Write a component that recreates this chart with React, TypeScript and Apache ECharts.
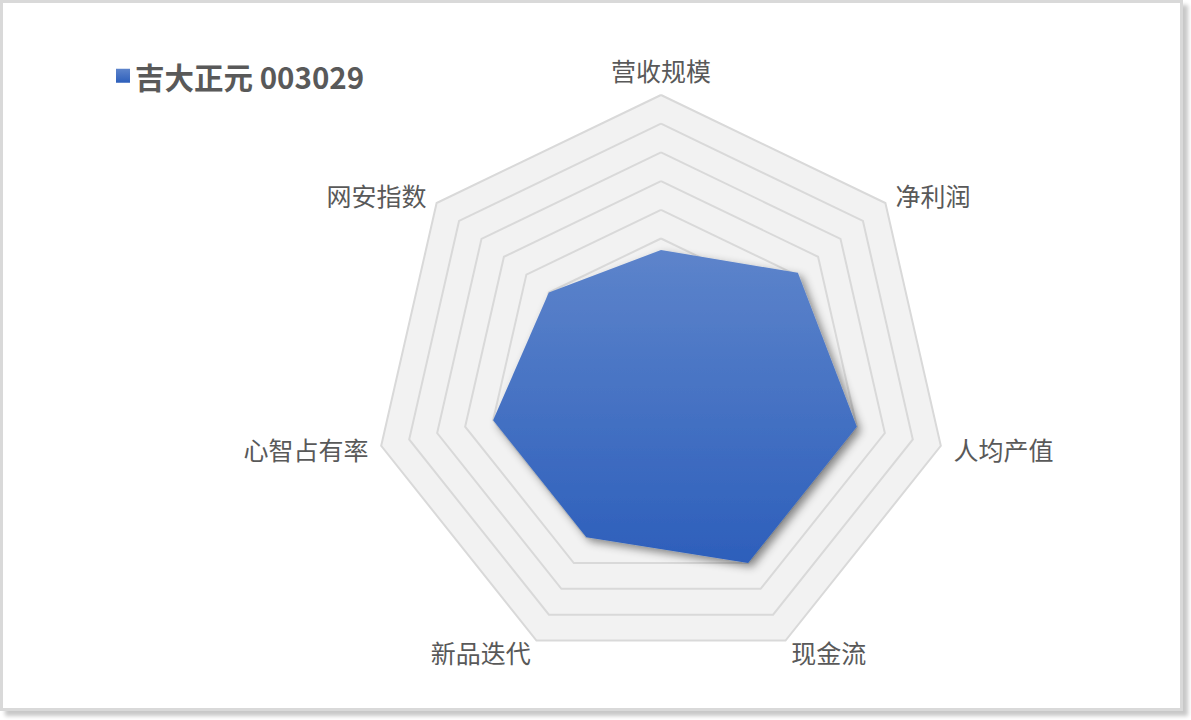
import { useEffect, useRef } from "react";
import * as echarts from "echarts";

// clockwise from the top
const indicators = ["营收规模", "净利润", "人均产值", "现金流", "新品迭代", "心智占有率", "网安指数"];
const values = [4.6, 6.1, 7.0, 7.0, 6.0, 6.0, 5.0];
const seriesName = "吉大正元 003029";
const maxValue = 10;

/** ECharts lays radar axes out counter-clockwise, so flip everything after the first. */
function ccw<T>(arr: T[]): T[] {
  return [arr[0], ...arr.slice(1).reverse()];
}

function buildOption(): echarts.EChartsOption {
  const fill = new echarts.graphic.LinearGradient(0, 0, 0, 1, [
    { offset: 0, color: "#5d84cb" },
    { offset: 1, color: "#2d5fbb" },
  ]);
  return {
    animation: false,
    legend: {
      left: 111,
      top: 56,
      icon: "rect",
      itemWidth: 14,
      itemHeight: 14,
      itemGap: 6,
      textStyle: {
        fontSize: 29.5,
        fontWeight: "bold",
        color: "#595959",
        fontFamily: "'Noto Sans CJK SC', 'Liberation Sans', sans-serif",
      },
      data: [{ name: seriesName, itemStyle: { color: fill } }],
    },
    radar: {
      center: [661, 382],
      radius: 287,
      shape: "polygon",
      startAngle: 90,
      splitNumber: 10,
      indicator: ccw(indicators).map((name) => ({ name, max: maxValue, min: 0 })),
      axisName: {
        color: "#595959",
        fontSize: 25,
        fontFamily: "'Noto Sans CJK SC', sans-serif",
      },
      nameGap: 13,
      axisLine: { show: false },
      axisTick: { show: false },
      axisLabel: { show: false },
      splitLine: { lineStyle: { color: "#d9d9d9", width: 2 } },
      splitArea: { show: true, areaStyle: { color: ["#f2f2f2"] } },
    },
    series: [
      {
        type: "radar",
        name: seriesName,
        symbol: "none",
        silent: true,
        data: [
          {
            name: seriesName,
            value: ccw(values),
            lineStyle: { width: 0, color: "#3f6fc4" },
            itemStyle: { color: fill },
            areaStyle: {
              color: fill,
              opacity: 1,
              shadowColor: "rgba(0,0,0,0.45)",
              shadowBlur: 8,
              shadowOffsetX: 4,
              shadowOffsetY: 4,
            },
          },
        ],
      },
    ],
  };
}

export default function App() {
  const ref = useRef<HTMLDivElement>(null);

  useEffect(() => {
    document.body.style.margin = "0";
    if (!ref.current) return;
    const chart = echarts.init(ref.current, undefined, { renderer: "svg" });
    chart.setOption(buildOption());
    return () => chart.dispose();
  }, []);

  return (
    <div style={{ position: "relative", width: 1191, height: 720, background: "#fff", overflow: "hidden" }}>
      <div
        style={{
          position: "absolute",
          left: 0,
          top: 0,
          width: 1177,
          height: 705,
          border: "3px solid #d9d9d9",
          boxShadow: "5px 5px 4px rgba(0,0,0,0.22)",
          background: "#fff",
        }}
      />
      <div ref={ref} style={{ position: "absolute", left: 0, top: 0, width: 1191, height: 720 }} />
    </div>
  );
}
